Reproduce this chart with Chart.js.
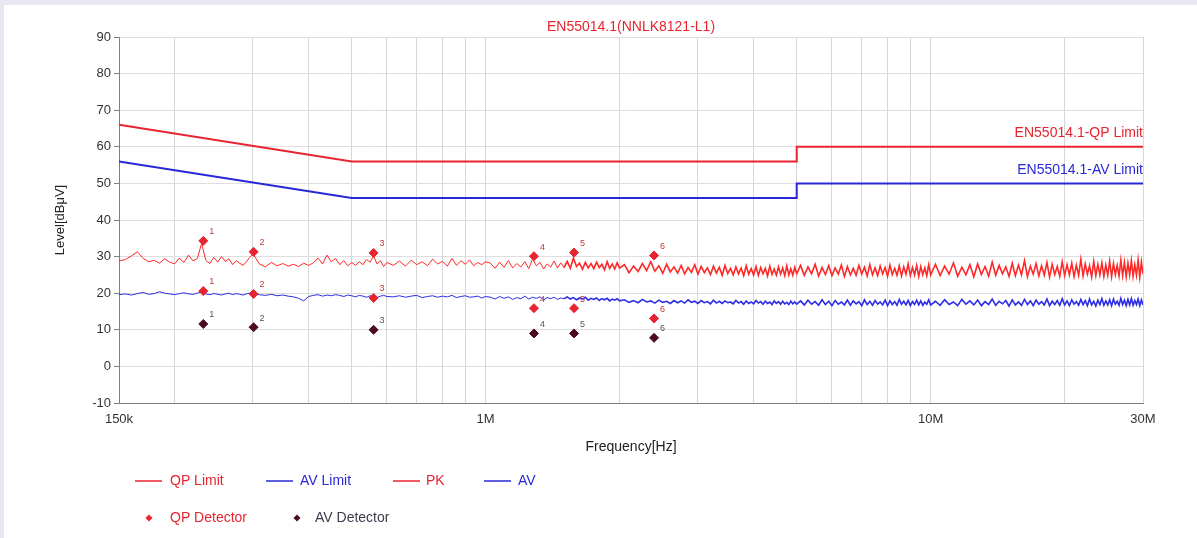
<!DOCTYPE html>
<html>
<head>
<meta charset="utf-8">
<script src="https://cdn.jsdelivr.net/npm/chart.js@4.4.1/dist/chart.umd.min.js"></script>
<style>
    html, body { margin: 0; padding: 0; background: #fff; }
    #wrap { width: 1197px; height: 538px; }
</style>
</head>
<body>
<div id="wrap"><canvas id="emiChart" width="1197" height="538"></canvas></div>
<script>
// limit lines (MHz / dBuV)
var limitFreq = [0.15, 0.5, 5, 5, 30];
var qpLimit = [66, 56, 56, 60, 60];
var avLimit = [56, 46, 46, 50, 50];

// scan frequencies (MHz), same for PK and AV traces
var scanFreq = [
    0.150,0.155,0.160,0.165,0.170,0.175,0.180,0.185,0.190,0.195,0.200,0.205,0.210,0.215,0.220,0.225,0.230,0.235,0.240,0.245,0.250,0.255,0.260,0.265,0.270,0.275,0.280,0.285,0.290,0.295,0.300,
    0.31,0.32,0.33,0.34,0.35,0.36,0.37,0.38,0.39,0.40,0.41,0.42,0.43,0.44,0.45,0.46,0.47,0.48,0.49,0.50,0.51,0.52,0.53,0.54,0.55,0.56,0.57,0.58,0.59,0.60,
    0.62,0.64,0.66,0.68,0.70,0.72,0.74,0.76,0.78,0.80,0.82,0.84,0.86,0.88,0.90,0.92,0.94,0.96,0.98,1.00,
    1.025,1.05,1.075,1.1,1.125,1.15,1.175,1.2,1.225,1.25,1.275,1.3,1.325,1.35,1.375,1.4,1.425,1.45,1.475,1.5,
    1.525,1.55,1.575,1.6,1.625,1.65,1.675,1.7,1.725,1.75,1.775,1.8,1.825,1.85,1.875,1.9,1.925,1.95,1.975,2.0,
    2.05,2.1,2.15,2.2,2.25,2.3,2.35,2.4,2.45,2.5,2.55,2.6,2.65,2.7,2.75,2.8,2.85,2.9,2.95,3.0,
    3.05,3.1,3.15,3.2,3.25,3.3,3.35,3.4,3.45,3.5,3.55,3.6,3.65,3.7,3.75,3.8,3.85,3.9,3.95,4.0,
    4.05,4.1,4.15,4.2,4.25,4.3,4.35,4.4,4.45,4.5,4.55,4.6,4.65,4.7,4.75,4.8,4.85,4.9,4.95,5.0,
    5.1,5.2,5.3,5.4,5.5,5.6,5.7,5.8,5.9,6.0,6.1,6.2,6.3,6.4,6.5,6.6,6.7,6.8,6.9,7.0,
    7.1,7.2,7.3,7.4,7.5,7.6,7.7,7.8,7.9,8.0,8.1,8.2,8.3,8.4,8.5,8.6,8.7,8.8,8.9,9.0,
    9.1,9.2,9.3,9.4,9.5,9.6,9.7,9.8,9.9,10.0,
    10.25,10.5,10.75,11,11.25,11.5,11.75,12,12.25,12.5,12.75,13,13.25,13.5,13.75,14,14.25,14.5,14.75,15,
    15.25,15.5,15.75,16,16.25,16.5,16.75,17,17.25,17.5,17.75,18,18.25,18.5,18.75,19,19.25,19.5,19.75,20,
    20.25,20.5,20.75,21,21.25,21.5,21.75,22,22.25,22.5,22.75,23,23.25,23.5,23.75,24,24.25,24.5,24.75,25,
    25.25,25.5,25.75,26,26.25,26.5,26.75,27,27.25,27.5,27.75,28,28.25,28.5,28.75,29,29.25,29.5,29.75,30
];

var pkLevel = [
    28.8,29.2,30.2,31.3,29.5,28.6,29.0,28.2,29.4,28.5,28.0,29.6,28.4,30.4,28.8,29.5,33.6,29.0,28.1,29.8,28.5,30.0,28.7,29.4,27.8,28.9,28.2,27.6,28.6,29.8,30.8,
    28.0,27.2,28.4,27.5,28.1,27.4,27.9,27.3,28.2,27.6,28.3,29.6,28.0,30.4,28.6,29.5,27.8,28.9,27.5,28.4,27.6,28.6,27.8,29.2,28.5,30.2,28.0,28.9,27.3,28.4,
    27.6,28.8,27.4,29.0,27.8,28.6,27.5,29.3,28.0,28.7,27.4,29.5,27.6,28.9,27.9,29.1,27.5,28.4,27.8,28.6,
    28.2,26.8,28.5,27.0,28.9,26.9,28.1,27.2,28.6,26.7,29.4,27.5,28.4,26.6,28.0,27.1,28.8,26.9,28.3,27.0,
    28.7,26.8,29.6,27.3,28.2,26.5,28.4,26.9,28.1,26.7,28.5,27.0,27.9,26.4,28.6,26.8,28.0,26.6,28.3,26.9,
    27.8,25.6,27.4,25.9,28.1,26.2,28.6,26.0,27.5,25.4,27.9,25.8,27.2,25.5,27.6,25.3,27.0,25.7,27.8,25.2,
    27.3,25.6,26.9,25.1,27.4,25.5,27.1,24.9,27.6,25.4,26.8,25.0,27.2,25.3,26.9,24.8,27.5,25.2,26.7,25.0,
    27.3,24.9,27.0,25.3,26.8,24.7,27.4,25.1,26.6,24.9,27.2,25.2,26.9,24.8,27.5,25.0,26.7,24.9,27.1,25.3,
    27.6,24.9,27.2,25.3,27.9,24.7,27.0,25.1,27.5,24.8,26.9,25.2,27.7,24.6,27.3,25.0,26.8,24.9,27.6,25.2,
    27.1,24.7,27.8,25.0,26.9,24.8,27.4,25.3,27.0,24.6,27.7,25.1,26.8,24.9,27.5,24.7,27.2,25.2,28.0,24.8,
    27.0,25.0,27.6,24.6,27.3,25.1,26.9,24.8,27.8,25.0,
    27.9,24.8,27.4,25.2,28.3,24.6,27.1,25.0,27.8,24.5,28.0,25.1,27.3,24.7,28.5,24.9,27.6,25.3,27.2,24.6,
    28.2,24.8,27.7,25.0,28.9,24.5,27.4,25.2,28.1,24.7,27.5,24.9,28.4,24.4,27.9,25.1,27.3,24.6,28.6,24.8,
    27.8,25.0,28.2,24.5,27.6,24.9,29.3,24.7,28.0,25.2,27.5,24.4,28.7,24.8,27.9,25.0,28.3,24.6,27.7,24.9,
    28.8,24.5,28.1,25.1,27.6,24.7,29.0,24.8,28.4,24.5,28.2,25.0,28.9,24.6,27.8,24.9,29.1,24.4,28.5,25.2
];

var avLevel = [
    19.6,19.8,19.5,19.9,20.2,19.7,19.9,20.4,20.0,19.8,19.6,19.9,20.1,19.8,19.7,20.0,20.4,19.8,19.6,19.9,19.7,19.5,19.8,20.0,19.6,19.9,19.7,19.5,19.8,20.0,20.1,
    19.6,19.4,19.7,19.3,19.5,19.2,19.0,18.6,17.9,19.1,19.4,19.6,19.2,19.5,19.3,19.6,19.4,19.1,19.5,19.3,19.0,19.4,19.2,18.9,19.3,19.0,18.8,19.2,19.4,19.1,
    19.0,19.3,18.9,19.2,19.4,18.8,19.1,19.3,18.9,19.2,19.0,19.4,18.8,19.1,19.3,18.9,19.0,19.2,18.7,19.1,
    18.9,18.4,19.1,18.6,19.0,18.3,18.8,18.5,19.2,18.4,18.9,18.6,19.0,18.2,18.8,18.5,18.9,18.3,18.7,18.5,
    19.0,18.4,18.8,18.2,18.7,18.4,18.9,18.1,18.6,18.3,18.7,18.0,18.5,18.2,18.6,17.9,18.4,18.1,18.5,17.9,
    18.2,17.5,18.0,17.4,18.3,17.6,17.9,17.3,18.1,17.5,17.8,17.2,18.0,17.4,17.9,17.3,18.2,17.5,17.8,17.2,
    18.0,17.4,17.7,17.1,18.1,17.3,17.8,17.2,17.9,17.4,17.6,17.1,18.0,17.3,17.7,17.0,17.9,17.2,17.6,17.1,
    18.0,17.3,17.7,17.0,17.8,17.2,17.6,16.9,17.9,17.2,17.7,17.0,17.8,17.1,17.5,16.9,17.8,17.1,17.6,17.0,
    17.9,16.8,18.1,17.0,17.7,16.7,18.2,16.9,17.8,16.6,18.0,17.0,17.6,16.8,18.1,16.7,17.9,17.1,17.7,16.6,
    18.2,16.9,17.8,16.7,18.0,17.0,17.6,16.8,18.1,16.6,17.9,16.9,17.7,16.7,18.3,17.0,17.8,16.8,18.0,16.6,
    17.7,16.9,18.1,16.8,17.9,16.7,17.6,17.0,18.2,16.8,
    17.8,16.7,18.2,16.9,17.6,16.6,18.3,17.0,17.9,16.8,18.1,16.6,17.7,16.9,18.4,16.7,17.8,17.1,18.0,16.5,
    18.2,16.8,17.6,16.7,18.3,16.9,17.9,16.6,18.1,17.0,17.7,16.8,18.4,16.6,17.8,16.9,18.0,16.7,18.5,16.8,
    17.9,16.6,18.2,17.0,17.7,16.7,18.3,16.9,18.0,16.6,18.4,16.8,17.8,16.5,18.1,16.9,18.5,16.7,17.9,16.8,
    18.2,16.6,18.4,17.0,17.8,16.7,18.6,16.9,18.1,16.6,18.3,16.8,18.5,16.7,18.0,16.9,18.4,16.6,18.2,16.8
];

// final measurement points
var markFreq = [0.232, 0.301, 0.560, 1.284, 1.58, 2.39];
var markNames = ['1', '2', '3', '4', '5', '6'];
var peakLevel = [34.3, 31.3, 31.0, 30.1, 31.1, 30.3];
var qpLevel = [20.6, 19.8, 18.7, 15.9, 15.9, 13.1];
var avDetLevel = [11.6, 10.7, 10.0, 9.0, 9.0, 7.8];

// axis ticks
var xGridFreq = [0.15,0.2,0.3,0.4,0.5,0.6,0.7,0.8,0.9,1,2,3,4,5,6,7,8,9,10,20,30];
var xLabelFreq = [0.15, 1, 10, 30];
var xLabelText = ['150k', '1M', '10M', '30M'];

var RED = 'rgb(232,36,48)';
var BLUE = 'rgb(40,40,215)';
var DARK = 'rgb(78,10,32)';
var FONT = '"Liberation Sans", Arial, sans-serif';

function pairs(xs, ys) {
    return xs.map(function (x, i) { return { x: x, y: ys[i] }; });
}

// the scan gets denser above ~1.5 MHz, draw it a bit heavier there
function traceWidth(seg) {
    return seg.p0.parsed.x >= 1.5 ? 1.6 : 1;
}

var overlay = {
    id: 'overlay',
    beforeDraw: function (chart) {
        var c = chart.ctx;
        c.save();
        c.fillStyle = '#e8e8f2';
        c.fillRect(0, 0, chart.width, chart.height);
        c.fillStyle = '#ffffff';
        c.fillRect(4, 5, chart.width - 4, chart.height - 5);
        c.restore();
    },
    afterDraw: function (chart) {
        var c = chart.ctx;
        var area = chart.chartArea;
        var ys = chart.scales.y;
        c.save();

        // title
        c.font = '14px ' + FONT;
        c.fillStyle = RED;
        c.textAlign = 'center';
        c.textBaseline = 'middle';
        c.fillText('EN55014.1(NNLK8121-L1)', (area.left + area.right) / 2, 27);

        // limit names
        c.textAlign = 'right';
        c.fillStyle = RED;
        c.fillText('EN55014.1-QP Limit', area.right, ys.getPixelForValue(qpLimit[qpLimit.length - 1]) - 14);
        c.fillStyle = BLUE;
        c.fillText('EN55014.1-AV Limit', area.right, ys.getPixelForValue(avLimit[avLimit.length - 1]) - 13);

        // marker numbers
        c.font = '9px ' + FONT;
        c.textAlign = 'left';
        [[0, '#c03838'], [1, '#c03838'], [2, '#555555']].forEach(function (d) {
            chart.getDatasetMeta(d[0]).data.forEach(function (pt, i) {
                c.fillStyle = d[1];
                c.fillText(markNames[i], pt.x + 6, pt.y - 9);
            });
        });

        // legend
        c.font = '14px ' + FONT;
        c.textBaseline = 'middle';
        var row1 = 481, row2 = 518;
        [[135, 170, RED, 'QP Limit'], [266, 300, BLUE, 'AV Limit'],
         [393, 426, RED, 'PK'], [484, 518, BLUE, 'AV']].forEach(function (it) {
            c.strokeStyle = it[2];
            c.lineWidth = 1.5;
            c.beginPath();
            c.moveTo(it[0], row1);
            c.lineTo(it[0] + 27, row1);
            c.stroke();
            c.fillStyle = it[2];
            c.fillText(it[3], it[1], row1);
        });
        [[149, 170, RED, RED, 'QP Detector'], [297, 315, DARK, '#3c3c4c', 'AV Detector']].forEach(function (it) {
            c.fillStyle = it[2];
            c.beginPath();
            c.moveTo(it[0], row2 - 3.5);
            c.lineTo(it[0] + 3.5, row2);
            c.lineTo(it[0], row2 + 3.5);
            c.lineTo(it[0] - 3.5, row2);
            c.closePath();
            c.fill();
            c.fillStyle = it[3];
            c.fillText(it[4], it[1], row2);
        });
        c.restore();
    }
};

function markerSet(label, ys, color) {
    return {
        label: label,
        data: pairs(markFreq, ys),
        showLine: false,
        pointStyle: 'rectRot',
        pointRadius: 4.5,
        pointBackgroundColor: color,
        pointBorderColor: color,
        pointBorderWidth: 1,
        order: 0
    };
}

var ctx = document.getElementById('emiChart');
var emiChart = new Chart(ctx, {
    type: 'line',
    data: {
        datasets: [
            markerSet('Peak', peakLevel, RED),
            markerSet('QP Detector', qpLevel, RED),
            markerSet('AV Detector', avDetLevel, DARK),
            {
                label: 'QP Limit',
                data: pairs(limitFreq, qpLimit),
                borderColor: RED,
                borderWidth: 2,
                pointRadius: 0,
                order: 1
            },
            {
                label: 'AV Limit',
                data: pairs(limitFreq, avLimit),
                borderColor: BLUE,
                borderWidth: 2,
                pointRadius: 0,
                order: 1
            },
            {
                label: 'PK',
                data: pairs(scanFreq, pkLevel),
                borderColor: 'rgb(255,40,40)',
                borderWidth: 1,
                segment: { borderWidth: traceWidth },
                pointRadius: 0,
                order: 2
            },
            {
                label: 'AV',
                data: pairs(scanFreq, avLevel),
                borderColor: 'rgb(45,45,230)',
                borderWidth: 1,
                segment: { borderWidth: traceWidth },
                pointRadius: 0,
                order: 2
            }
        ]
    },
    options: {
        responsive: false,
        animation: false,
        devicePixelRatio: 1,
        layout: { padding: { left: 0, right: 54, top: 37, bottom: 80 } },
        plugins: {
            legend: { display: false },
            tooltip: { enabled: false }
        },
        scales: {
            x: {
                type: 'logarithmic',
                min: 0.15,
                max: 30,
                afterBuildTicks: function (scale) {
                    scale.ticks = xGridFreq.map(function (v) { return { value: v }; });
                },
                afterFit: function (scale) { scale.height = 55; },
                ticks: {
                    autoSkip: false,
                    maxRotation: 0,
                    padding: 9,
                    color: '#333',
                    font: { family: FONT, size: 13 },
                    callback: function (value) {
                        var k = xLabelFreq.indexOf(value);
                        return k >= 0 ? xLabelText[k] : '';
                    }
                },
                grid: { color: '#d6d6d6', drawTicks: false },
                border: { color: '#808080' },
                title: {
                    display: true,
                    text: 'Frequency[Hz]',
                    color: '#222',
                    font: { family: FONT, size: 14 },
                    padding: { top: 0, bottom: 2 }
                }
            },
            y: {
                min: -10,
                max: 90,
                afterFit: function (scale) { scale.width = 119; },
                ticks: {
                    stepSize: 10,
                    padding: 3,
                    color: '#333',
                    font: { family: FONT, size: 13 }
                },
                grid: { color: '#dedede', tickLength: 5, tickColor: '#808080' },
                border: { color: '#808080' },
                title: {
                    display: true,
                    text: 'Level[dBμV]',
                    color: '#222',
                    font: { family: FONT, size: 13 },
                    padding: { top: 53, bottom: 0 }
                }
            }
        }
    },
    plugins: [overlay]
});
</script>
</body>
</html>
